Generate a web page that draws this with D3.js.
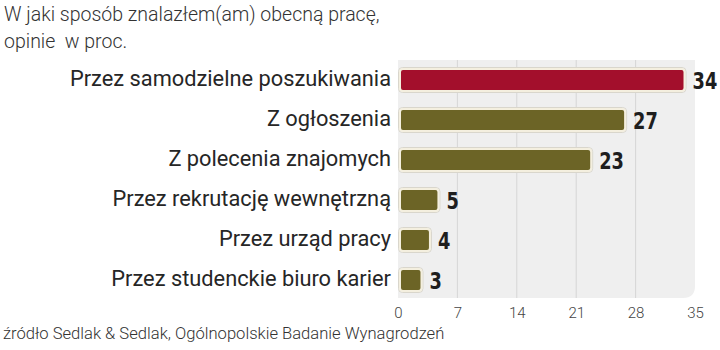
<!DOCTYPE html>
<html>
<head>
<meta charset="utf-8">
<script src="https://cdn.jsdelivr.net/npm/d3@7/dist/d3.min.js"></script>
<style>
  html, body { margin: 0; padding: 0; background: #fff; }
  svg { display: block; }
</style>
</head>
<body>
<svg id="chart" width="720" height="350"></svg>
<script>
// Survey answers, percent of respondents
const categories = [
  "Przez samodzielne poszukiwania",
  "Z ogłoszenia",
  "Z polecenia znajomych",
  "Przez rekrutację wewnętrzną",
  "Przez urząd pracy",
  "Przez studenckie biuro karier"
];
const values = [34, 27, 23, 5, 4, 3];
const tickValues = [0, 7, 14, 21, 28, 35];
const titleLines = ["W jaki sposób znalazłem(am) obecną pracę,", "opinie  w proc."];
const sourceText = "źródło Sedlak & Sedlak, Ogólnopolskie Badanie Wynagrodzeń";

const svg = d3.select("#chart");

const x = d3.scaleLinear().domain([0, 35]).range([398, 695]);
const y = d3.scaleBand().domain(categories).range([60, 300])
  .paddingInner(0.35).paddingOuter(0.175);

// Title
svg.append("g").selectAll("text").data(titleLines).join("text")
  .attr("x", 4)
  .attr("y", (d, i) => 21 + i * 27)
  .attr("font-family", "Roboto")
  .attr("font-weight", 300)
  .attr("font-size", 19.5)
  .attr("fill", "#333")
  .style("white-space", "pre")
  .text(d => d);

// Plot background with rounded bottom-right corner
const bx0 = x(0), bx1 = x(35), by0 = 60, by1 = 298, r = 12;
svg.append("path")
  .attr("d", `M${bx0},${by0}H${bx1}V${by1 - r}Q${bx1},${by1} ${bx1 - r},${by1}H${bx0}Z`)
  .attr("fill", "#efefef");

// Vertical gridlines
svg.append("g").selectAll("line").data(tickValues.filter(t => t > 0 && t < 35)).join("line")
  .attr("x1", d => x(d)).attr("x2", d => x(d))
  .attr("y1", by0).attr("y2", by1)
  .attr("stroke", "#d6d6d6").attr("stroke-width", 1);

// Bars
const bars = svg.append("g");
bars.selectAll("rect.shadow").data(values).join("rect")
  .attr("class", "shadow")
  .attr("x", x(0) + 0.5)
  .attr("y", (d, i) => y(categories[i]) + 0.5)
  .attr("width", d => x(d) - x(0) - 1)
  .attr("height", y.bandwidth() - 1)
  .attr("rx", 4)
  .attr("fill", "none")
  .attr("stroke", "#d9d6cc")
  .attr("stroke-width", 1);
bars.selectAll("rect.bar").data(values).join("rect")
  .attr("class", "bar")
  .attr("x", x(0) + 2)
  .attr("y", (d, i) => y(categories[i]) + 2)
  .attr("width", d => x(d) - x(0) - 4)
  .attr("height", y.bandwidth() - 4)
  .attr("rx", 3)
  .attr("fill", (d, i) => i === 0 ? "#a30f2c" : "#6c6426")
  .attr("stroke", "#f4efdf")
  .attr("stroke-width", 2);

// Value labels, horizontally condensed bold digits
svg.append("g").selectAll("text").data(values).join("text")
  .attr("transform", (d, i) =>
    `translate(${x(d) + 6},${y(categories[i]) + y.bandwidth() / 2 + 8.5}) scale(0.86,1)`)
  .attr("font-family", "'DejaVu Sans Condensed', 'DejaVu Sans', sans-serif")
  .attr("font-weight", "bold")
  .attr("font-size", 23)
  .attr("fill", "#1e1e1e")
  .text(d => d);

// Category labels
svg.append("g").selectAll("text").data(categories).join("text")
  .attr("x", 391)
  .attr("y", d => y(d) + y.bandwidth() / 2 + 5.5)
  .attr("text-anchor", "end")
  .attr("font-family", "Roboto")
  .attr("font-size", 21.8)
  .attr("fill", "#262626")
  .text(d => d);

// X axis tick labels
const axis = d3.axisBottom(x).tickValues(tickValues).tickSize(0).tickPadding(0);
const ax = svg.append("g").attr("transform", "translate(0,304)").call(axis);
ax.select(".domain").remove();
ax.selectAll("text")
  .attr("font-family", "Roboto")
  .attr("font-weight", 300)
  .attr("font-size", 15)
  .attr("fill", "#444")
  .attr("dy", "0.95em");

// Source
svg.append("text")
  .attr("x", 3)
  .attr("y", 339)
  .attr("font-family", "Roboto")
  .attr("font-weight", 300)
  .attr("font-size", 16.6)
  .attr("fill", "#333")
  .text(sourceText);
</script>
</body>
</html>
